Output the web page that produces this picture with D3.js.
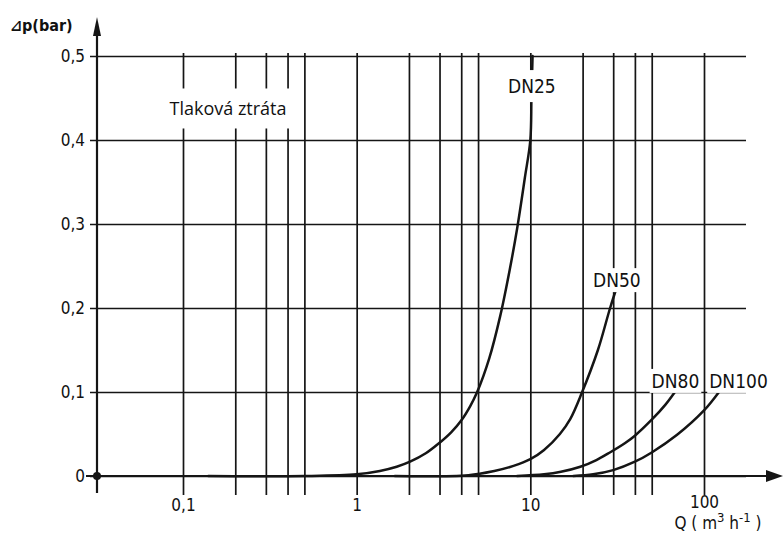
<!doctype html>
<html lang='cs'>
<head>
<meta charset='UTF-8'>
<title>Tlaková ztráta</title>
<script src='https://cdn.jsdelivr.net/npm/d3@7/dist/d3.min.js'></script>
<style>
  body { margin: 0; background: #fff; }
  svg text { font-family: 'DejaVu Sans Condensed', 'DejaVu Sans', sans-serif; fill: #111; }
</style>
</head>
<body>
<div id='chart'></div>
<script>
// mrizka a popisky os
const qGrid = [0.1, 0.2, 0.3, 0.4, 0.5, 1, 2, 3, 4, 5, 10, 20, 30, 40, 50, 100];
const qLabeled = [0.1, 1, 10, 100];
const pTicks = [0, 0.1, 0.2, 0.3, 0.4, 0.5];

// krivky: Q (m3/h), dp (bar)
const seriesNames = ['DN25', 'DN50', 'DN80', 'DN100'];
const dn25Q = [0.14, 0.5, 1, 1.36, 1.7, 2.03, 2.5, 2.94, 3.5, 4.03, 4.5, 4.92, 5.8, 6.7, 7.6, 8.4, 9.3, 10, 10.15, 10.3];
const dn25P = [0, 0, 0.002, 0.006, 0.011, 0.017, 0.027, 0.038, 0.052, 0.067, 0.083, 0.099, 0.14, 0.19, 0.245, 0.295, 0.355, 0.4, 0.45, 0.5];
const dn50Q = [1.66, 4.4, 6.2, 8, 10, 12, 14.8, 17, 19.8, 24.5, 28.8, 31.5];
const dn50P = [0, 0.001, 0.006, 0.012, 0.02, 0.031, 0.05, 0.068, 0.099, 0.15, 0.2, 0.225];
const dn80Q = [8.4, 12, 15, 19.4, 24, 28.7, 35, 40, 50, 60, 68];
const dn80P = [0, 0.002, 0.005, 0.011, 0.019, 0.028, 0.039, 0.048, 0.067, 0.085, 0.1];
const dn100Q = [17.7, 23, 30, 40, 50, 70, 100, 122];
const dn100P = [0, 0.002, 0.007, 0.017, 0.028, 0.049, 0.078, 0.1];

function draw_chart() {
    const W = 783, H = 534;
    const INK = '#151515';
    const AX_X = 97, AX_Y = 476;
    const svg = d3.select('#chart').append('svg').attr('width', W).attr('height', H);

    const x = d3.scaleLog().domain([0.1, 100]).range([183, 704]);
    const y = d3.scaleLinear().domain([0, 0.5]).range([AX_Y, 56]);

    // svisla mrizka + popisky Q
    const xg = svg.append('g')
        .attr('transform', 'translate(0,' + AX_Y + ')')
        .call(d3.axisBottom(x)
            .tickValues(qGrid)
            .tickSizeInner(-(AX_Y - 53))
            .tickSizeOuter(0)
            .tickPadding(23)
            .tickFormat(d => qLabeled.includes(d) ? String(d).replace('.', ',') : ''));
    xg.select('.domain').remove();
    xg.selectAll('.tick line').attr('y1', 19).attr('stroke', INK).attr('stroke-width', 1.7);
    xg.selectAll('.tick text').style('font-size', '17px').attr('fill', '#111');
    xg.selectAll('.tick').filter(d => d === 100).select('text').attr('y', 20);

    // vodorovna mrizka + popisky dp
    const yg = svg.append('g')
        .attr('transform', 'translate(' + AX_X + ',0)')
        .call(d3.axisLeft(y)
            .tickValues(pTicks)
            .tickSizeInner(-(746 - AX_X))
            .tickSizeOuter(0)
            .tickPadding(12)
            .tickFormat(d => String(d).replace('.', ',')));
    yg.select('.domain').remove();
    yg.selectAll('.tick line').attr('x1', -7).attr('stroke', INK).attr('stroke-width', 1.5);
    yg.selectAll('.tick text').style('font-size', '17px').attr('fill', '#111');

    // krivky
    const line = d3.line().x(d => x(d[0])).y(d => y(d[1])).curve(d3.curveCatmullRom.alpha(0.5));
    const curves = [[dn25Q, dn25P], [dn50Q, dn50P], [dn80Q, dn80P], [dn100Q, dn100P]];
    curves.forEach(function (c) {
        svg.append('path')
            .attr('d', line(c[0].map((q, i) => [q, c[1][i]])))
            .attr('fill', 'none')
            .attr('stroke', INK)
            .attr('stroke-width', 2.5)
            .attr('stroke-linecap', 'round');
    });

    // osy se sipkami
    svg.append('line').attr('x1', AX_X).attr('x2', AX_X).attr('y1', 493).attr('y2', 30)
        .attr('stroke', INK).attr('stroke-width', 2.2);
    svg.append('path').attr('d', 'M' + AX_X + ',17 L' + (AX_X - 4) + ',36 L' + (AX_X + 4) + ',36 Z').attr('fill', INK);
    svg.append('line').attr('x1', 86).attr('x2', 770).attr('y1', AX_Y).attr('y2', AX_Y)
        .attr('stroke', INK).attr('stroke-width', 2.2);
    svg.append('path').attr('d', 'M783,' + AX_Y + ' L766,' + (AX_Y - 6) + ' L766,' + (AX_Y + 6) + ' Z').attr('fill', INK);
    svg.append('circle').attr('cx', AX_X).attr('cy', AX_Y).attr('r', 4).attr('fill', INK);

    // text s bilym podkladem
    function label(txt, cx, cy, size, padX, padY, family) {
        const g = svg.append('g');
        const t = g.append('text')
            .attr('x', cx).attr('y', cy).attr('dy', '0.36em')
            .attr('text-anchor', 'middle')
            .style('font-size', size + 'px')
            .text(txt);
        if (family) t.style('font-family', family);
        const b = t.node().getBBox();
        g.insert('rect', 'text')
            .attr('x', b.x - padX).attr('y', b.y - padY)
            .attr('width', b.width + 2 * padX).attr('height', b.height + 2 * padY)
            .attr('fill', '#fff');
    }
    const labelAt = [[10.2, 0.464], [31.5, 0.233], [68.5, 0.113], [158, 0.113]];
    seriesNames.forEach(function (n, i) {
        label(n, x(labelAt[i][0]), y(labelAt[i][1]), 19, 2, i === 0 ? 5 : 1);
    });
    label('Tlaková ztráta', 228, 109, 18, 8, 8, "'Open Sans', 'Noto Sans', sans-serif");

    // popisky os
    svg.append('text').attr('x', 10).attr('y', 31)
        .style('font-size', '16px').style('font-weight', 'bold')
        .text('\u22BFp(bar)');
    const qt = svg.append('text').attr('x', 718).attr('y', 529)
        .attr('text-anchor', 'middle').style('font-size', '17px');
    qt.append('tspan').text('Q ( m');
    qt.append('tspan').attr('dy', -7).style('font-size', '13px').text('3');
    qt.append('tspan').attr('dy', 7).text(' h');
    qt.append('tspan').attr('dy', -7).style('font-size', '13px').text('-1');
    qt.append('tspan').attr('dy', 7).text(' )');
}

draw_chart();
</script>
</body>
</html>
